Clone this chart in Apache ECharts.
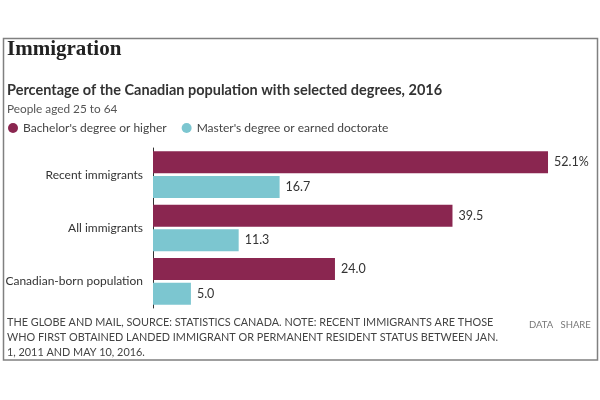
<!DOCTYPE html>
<html><head><meta charset="utf-8">
<script src="https://cdn.jsdelivr.net/npm/echarts@6/dist/echarts.min.js"></script>
<style>html,body{margin:0;padding:0;background:#fff}#c{width:600px;height:400px}</style>
</head><body><div id="c"></div>
<script>
const categories = ['Recent immigrants', 'All immigrants', 'Canadian-born population'];
const bachelorValues = [52.1, 39.5, 24.0];
const masterValues = [16.7, 11.3, 5.0];
const seriesNames = ["Bachelor's degree or higher", "Master's degree or earned doctorate"];
const footerLines = [
  'THE GLOBE AND MAIL, SOURCE: STATISTICS CANADA. NOTE: RECENT IMMIGRANTS ARE THOSE',
  'WHO FIRST OBTAINED LANDED IMMIGRANT OR PERMANENT RESIDENT STATUS BETWEEN JAN.',
  '1, 2011 AND MAY 10, 2016.'
];
const colors = ['#8a2650', '#7cc6d0'];
const font = 'Lato';

const chart = echarts.init(document.getElementById('c'), null, {renderer: 'canvas'});
const lbl = (isFirst) => ({
  show: true, position: 'right', distance: 6, color: '#333', fontFamily: font, fontSize: 12.5,
  formatter: p => p.value.toFixed(1) + (isFirst && p.dataIndex === 0 ? '%' : '')
});
chart.setOption({
  animation: false,
  backgroundColor: '#fff',
  title: [
    {text: 'Immigration', left: 7, top: 39, padding: 0, textStyle: {fontFamily: 'Liberation Serif', fontWeight: 'bold', fontSize: 21, color: '#222'}},
    {text: 'Percentage of the Canadian population with selected degrees, 2016', left: 7, top: 83, padding: 0, textStyle: {fontFamily: font, fontWeight: 'bold', fontSize: 14.5, color: '#333'}},
    {text: 'People aged 25 to 64', left: 7, top: 103, padding: 0, textStyle: {fontFamily: font, fontWeight: 'normal', fontSize: 11.8, color: '#555'}},
    {text: footerLines.join('\n'), left: 7, top: 314.5, padding: 0, textStyle: {fontFamily: font, fontWeight: 'normal', fontSize: 10.85, color: '#444', lineHeight: 15}},
    {text: 'DATA   SHARE', left: 529, top: 320, padding: 0, textStyle: {fontFamily: font, fontWeight: 'normal', fontSize: 9.5, color: '#777'}}
  ],
  legend: {
    left: 3, top: 117, icon: 'circle', itemWidth: 10, itemHeight: 10, itemGap: 15,
    textStyle: {fontFamily: font, fontSize: 12, color: '#444'},
    data: seriesNames
  },
  graphic: [
    {type: 'rect', shape: {x: 3.5, y: 38.5, width: 594, height: 321.5}, style: {fill: 'none', stroke: '#808080', lineWidth: 1.5}, silent: true}
  ],
  grid: {left: 153, top: 148, width: 417, height: 160, containLabel: false, outerBoundsMode: 'none'},
  xAxis: {type: 'value', min: 0, max: 55, show: false},
  yAxis: {
    type: 'category', data: categories, inverse: true,
    axisLine: {show: true, lineStyle: {color: '#333', width: 1}},
    axisTick: {show: false},
    axisLabel: {fontFamily: font, fontSize: 12, color: '#333', margin: 10}
  },
  series: [
    {name: seriesNames[0], type: 'bar', data: bachelorValues, itemStyle: {color: colors[0]}, barWidth: 22, barGap: '12%', label: lbl(true)},
    {name: seriesNames[1], type: 'bar', data: masterValues, itemStyle: {color: colors[1]}, barWidth: 22, label: lbl(false)}
  ]
});
</script></body></html>
